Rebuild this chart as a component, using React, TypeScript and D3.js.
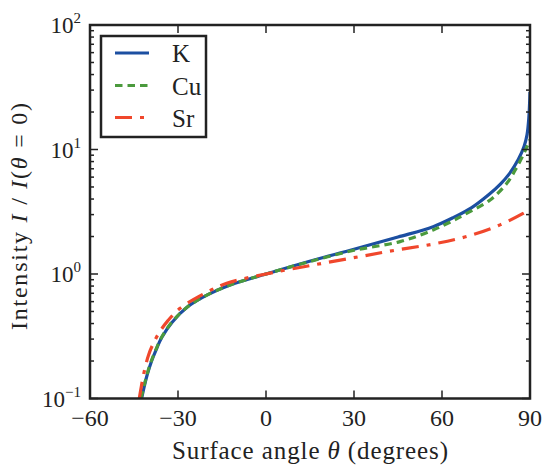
import React from "react";
import * as d3 from "d3";

const kTheta = [-42.4, -41.5, -40.5, -39, -37.5, -35.5, -32, -26.5, -20, -12, 0, 14, 30, 45, 57, 64, 70, 76, 80, 83, 86, 88, 89, 89.6, 90];
const kValue = [0.1, 0.125, 0.155, 0.2, 0.245, 0.31, 0.41, 0.55, 0.68, 0.82, 1.0, 1.25, 1.58, 1.98, 2.4, 2.85, 3.4, 4.35, 5.3, 6.4, 8.3, 10.6, 13.2, 18, 29];

const cuTheta = [-42.6, -41.5, -40.5, -39, -37.5, -35.5, -32, -26.5, -20, -12, 0, 14, 30, 45.7, 57, 64, 68.4, 76.4, 82.1, 85.5, 88.3, 89.3, 90];
const cuValue = [0.1, 0.128, 0.158, 0.203, 0.248, 0.313, 0.413, 0.55, 0.68, 0.82, 1.0, 1.24, 1.55, 1.82, 2.26, 2.7, 3.07, 3.93, 5.35, 7.2, 9.7, 11, 12];

const srTheta = [-43.2, -42.5, -41.5, -40, -38, -36, -33.5, -29.3, -20.8, -13.4, 0, 16, 32, 44.6, 57, 68.4, 79.8, 87.7, 89];
const srValue = [0.1, 0.125, 0.165, 0.225, 0.29, 0.35, 0.42, 0.53, 0.7, 0.842, 1.0, 1.18, 1.38, 1.56, 1.74, 2.0, 2.48, 3.07, 3.2];

const xTicks = [-60, -30, 0, 30, 60, 90];
const xTickLabels = ["\u221260", "\u221230", "0", "30", "60", "90"];
const yTicks = [0.1, 1, 10, 100];
const yTickExps = ["\u22121", "0", "1", "2"];

const seriesNames = ["K", "Cu", "Sr"];
const seriesColors = ["#1c4fa1", "#4b9a3d", "#f0472c"];
const seriesDash = ["none", "7.5,5", "17,8,4,8"];

const W = 542, H = 471;
const L = 90, R = 530, T = 25, B = 398.5;
const ts = { fontFamily: "Liberation Serif" };

export default function App() {
  const x = d3.scaleLinear().domain([-60, 90]).range([L, R]);
  const y = d3.scaleLog().domain([0.1, 100]).range([B, T]);
  const line = d3
    .line<[number, number]>()
    .x((d) => x(d[0]))
    .y((d) => y(d[1]))
    .curve(d3.curveCatmullRom.alpha(0.5));

  const series = [
    kTheta.map((t, i) => [t, kValue[i]] as [number, number]),
    cuTheta.map((t, i) => [t, cuValue[i]] as [number, number]),
    srTheta.map((t, i) => [t, srValue[i]] as [number, number]),
  ];

  const minor: number[] = [];
  for (let e = -1; e < 2; e++) {
    for (let m = 2; m <= 9; m++) minor.push(m * Math.pow(10, e));
  }

  const legendY = [53, 85.5, 117.5];

  return (
    <svg width={W} height={H} style={{ position: "absolute", left: 0, top: 0, background: "#fff" }}>
      <rect x={0} y={0} width={W} height={H} fill="#fff" />
      <defs>
        <clipPath id="plotclip">
          <rect x={L} y={T} width={R - L} height={B - T} />
        </clipPath>
      </defs>

      <g clipPath="url(#plotclip)">
        {series.map((s, i) => (
          <path
            key={i}
            d={line(s) || ""}
            fill="none"
            stroke={seriesColors[i]}
            strokeWidth={3.2}
            strokeDasharray={seriesDash[i]}
          />
        ))}
      </g>

      <g stroke="#222" strokeWidth={1.5}>
        {xTicks.map((t) => (
          <g key={t}>
            <line x1={x(t)} x2={x(t)} y1={B} y2={B - 8} />
            <line x1={x(t)} x2={x(t)} y1={T} y2={T + 8} />
          </g>
        ))}
        {yTicks.map((t) => (
          <g key={t}>
            <line x1={L} x2={L + 8} y1={y(t)} y2={y(t)} />
            <line x1={R} x2={R - 8} y1={y(t)} y2={y(t)} />
          </g>
        ))}
        {minor.map((t) => (
          <g key={t}>
            <line x1={L} x2={L + 4} y1={y(t)} y2={y(t)} />
            <line x1={R} x2={R - 4} y1={y(t)} y2={y(t)} />
          </g>
        ))}
      </g>

      <rect x={L} y={T} width={R - L} height={B - T} fill="none" stroke="#222" strokeWidth={2.5} />

      {xTicks.map((t, i) => (
        <text key={t} x={x(t)} y={426} textAnchor="middle" fontSize={24} fill="#222" style={ts}>
          {xTickLabels[i]}
        </text>
      ))}

      {yTicks.map((t, i) => (
        <text key={t} x={81} y={y(t) + 8} textAnchor="end" fontSize={23} fill="#222" style={ts}>
          10
          <tspan dy={-10} fontSize={15}>
            {yTickExps[i]}
          </tspan>
        </text>
      ))}

      <text x={(L + R) / 2} y={459} textAnchor="middle" fontSize={25} fill="#222" textLength={276} lengthAdjust="spacing" style={ts}>
        Surface angle <tspan fontStyle="italic">θ</tspan> (degrees)
      </text>
      <text
        transform={`translate(27, ${216.5}) rotate(-90)`}
        textAnchor="middle"
        fontSize={24}
        fill="#222"
        textLength={227}
        lengthAdjust="spacing"
        style={ts}
      >
        Intensity <tspan fontStyle="italic">I</tspan> / <tspan fontStyle="italic">I</tspan>(<tspan fontStyle="italic">θ</tspan> = 0)
      </text>

      <rect x={101} y={36} width={105} height={101} fill="#fff" stroke="#222" strokeWidth={2.5} />
      {seriesNames.map((n, i) => (
        <g key={n}>
          <line
            x1={115}
            x2={149}
            y1={legendY[i]}
            y2={legendY[i]}
            stroke={seriesColors[i]}
            strokeWidth={3.2}
            strokeDasharray={seriesDash[i]}
          />
          <text x={172} y={legendY[i] + 9} fontSize={25} fill="#222" style={ts}>
            {n}
          </text>
        </g>
      ))}
    </svg>
  );
}
